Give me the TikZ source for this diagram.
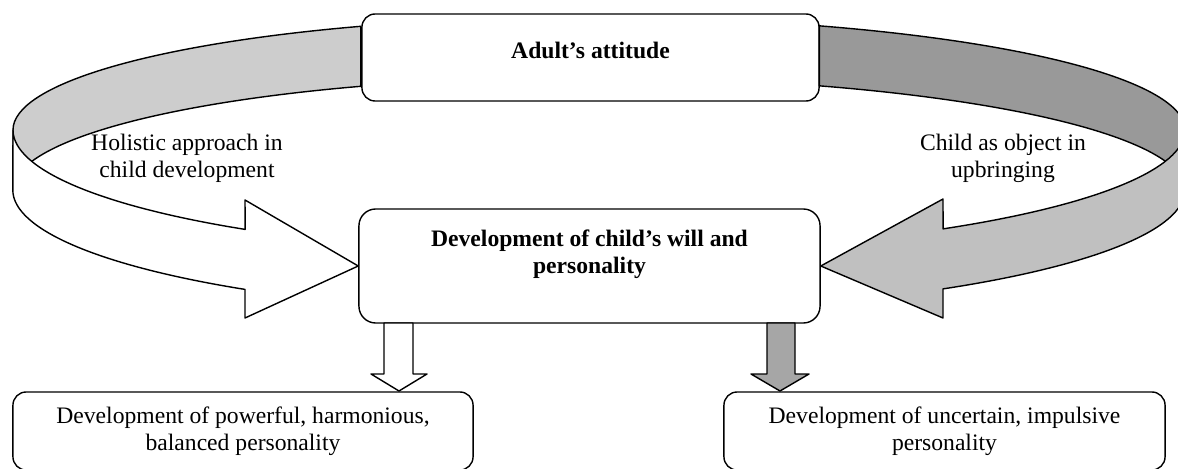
\documentclass[tikz,border=0pt]{standalone}
\usepackage{fontspec}
\setmainfont{Liberation Serif}
\definecolor{backgrey}{HTML}{CDCDCD}
\definecolor{darkband}{HTML}{999999}
\definecolor{lightband}{HTML}{C0C0C0}
\definecolor{downgrey}{HTML}{A6A6A6}
\begin{document}
\begin{tikzpicture}[x = 0.025cm, y = 0.025cm,
        box/.style = {draw, fill = white, line width = 1pt, rounded corners = 0.33cm},
        txt/.style = {align = center, font = \fontsize{16.8}{19}\selectfont},
        bold/.style = {align = center, font = \fontsize{16.8}{19.5}\selectfont\bfseries},
        band/.style = {draw, line width = 1pt, line join = round}]
        \useasboundingbox (0, 0) rectangle (1178, 468);

        \node[box, minimum width = 11.425cm, minimum height = 2.175cm] (adult) at (590.5, 410.5) {};
        \node[bold] (adulttext) at (590.5, 418) {Adult’s attitude};
        \node[box, minimum width = 11.525cm, minimum height = 2.85cm, rounded corners = 0.42cm] (will) at (589.5, 202) {};
        \node[bold] (willtext) at (589.5, 214) {Development of child’s will and\\personality};
        \node[box, txt, minimum width = 11.5cm, minimum height = 1.95cm] (harmonious) at (243, 37) {Development of powerful, harmonious,\\balanced personality};
        \node[box, txt, minimum width = 11.025cm, minimum height = 1.95cm] (impulsive) at (944.5, 37) {Development of uncertain, impulsive\\personality};

        \draw[band, fill = backgrey] ([shift = {(590, 338)}]113.4:577 and 113) arc[start angle = 113.4, end angle = 180, x radius = 577, y radius = 113] -- (13, 278) arc[start angle = 180, end angle = 113.4, x radius = 577, y radius = 113] -- cycle;
        \draw[band, fill = white] (13, 338) arc[start angle = 180, end angle = 233.3, x radius = 577, y radius = 124] -- (245, 268) -- (will.west) -- (245, 150) -- (245, 178.6) arc[start angle = 233.3, end angle = 180, x radius = 577, y radius = 124] -- cycle;

        \draw[band, fill = darkband] ([shift = {(588, 338)}]67.2:597 and 113) arc[start angle = 67.2, end angle = 0, x radius = 597, y radius = 113] -- (1185, 278) arc[start angle = 0, end angle = 67.2, x radius = 597, y radius = 113] -- cycle;
        \draw[band, fill = lightband] (1185, 338) arc[start angle = 0, end angle = -53.5, x radius = 597, y radius = 123] -- (943, 269) -- (will.east) -- (943, 150) -- (943, 179.1) arc[start angle = -53.5, end angle = 0, x radius = 597, y radius = 123] -- cycle;

        \draw[band, fill = white] (384, 145) -- (384, 94) -- (371, 94) -- (399, 77) -- (427, 94) -- (413, 94) -- (413, 145) -- cycle;
        \draw[band, fill = downgrey] (767, 145) -- (767, 94) -- (751, 94) -- (780, 77) -- (809, 94) -- (795, 94) -- (795, 145) -- cycle;

        \node[txt] (holistic) at (187, 310) {Holistic approach in\\child development};
        \node[txt] (object) at (1003, 310) {Child as object in\\upbringing};
    \end{tikzpicture}
\end{document}
